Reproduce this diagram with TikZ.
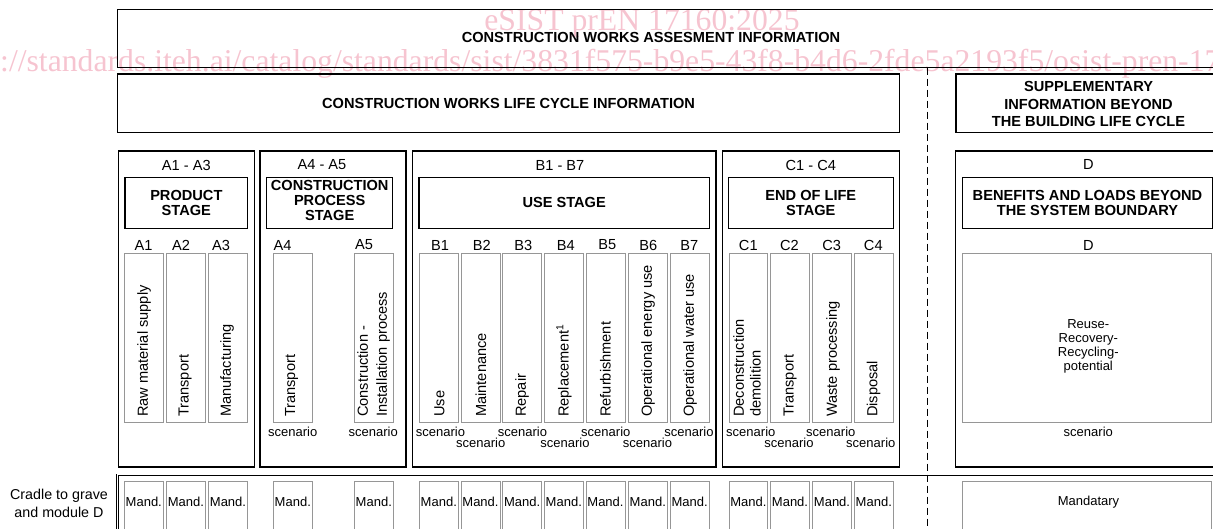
\documentclass[tikz,border=0pt]{standalone}
\usepackage{fontspec}
\setmainfont{Liberation Sans}
\newfontfamily\wmfont{Liberation Serif}
\definecolor{wmpink}{RGB}{246,196,208}
\definecolor{colgray}{RGB}{150,150,150}
\newcommand\fbig{\fontsize{14.6}{15.5}\selectfont}
\newcommand\fbigb{\fontsize{14.6}{15.5}\selectfont\bfseries}
\newcommand\fsm{\fontsize{13}{14}\selectfont}
\newcommand\rbox[7]{%
  \pgfmathsetmacro\rbw{#5-#3}%
  \pgfmathsetmacro\rbh{#6-#4}%
  \pgfmathsetmacro\rbx{(#3+#5)/2}%
  \pgfmathsetmacro\rby{(#4+#6)/2}%
  \node[#2,minimum width=\rbw pt,minimum height=\rbh pt] (#1) at (\rbx,\rby) {#7};}
\tikzset{
  frame/.style={draw=black,line width=1.2pt,inner sep=0pt},
  hdr/.style={frame,font=\fbigb,align=center},
  colbox/.style={draw=colgray,line width=0.8pt,inner sep=0pt},
  lbl/.style={inner sep=0pt,font=\fbig},
  scen/.style={inner sep=0pt,font=\fsm},
  vtxt/.style={inner sep=0pt,font=\fbig,rotate=90,anchor=west,align=left},
  wm/.style={text=wmpink,inner sep=0pt,font=\wmfont\fontsize{31.7}{31.7}\selectfont},
  dbl/.style={draw=black,line width=0.8pt,double,double distance=0.9pt,inner sep=0pt},
}
\begin{document}
\begin{tikzpicture}[x=1pt,y=-1pt]
\useasboundingbox (0,0) rectangle (1213,528);
\clip (0,0) rectangle (1213,528);
% watermark
\node[wm,anchor=base] (wm1) at (642,30) {eSIST prEN 17160:2025};
\node[wm,anchor=base west] (wm2) at (0,71) {://standards.iteh.ai/catalog/standards/sist/3831f575-b9e5-43f8-b4d6-2fde5a2193f5/osist-pren-17160-2025};
% top boxes
\rbox{top}{frame}{117.7}{9.5}{1235}{67.7}{}
\node[lbl,font=\fbigb] (toptxt) at (651,37.5) {CONSTRUCTION WORKS ASSESMENT INFORMATION};
\rbox{lci}{frame,font=\fbigb}{117.7}{74}{899.5}{132.5}{CONSTRUCTION WORKS LIFE CYCLE INFORMATION}
\rbox{supp}{frame}{956}{74}{1221}{132.5}{}
\node[inner sep=0pt,align=center,font=\fontsize{14.6}{17.8}\selectfont\bfseries] (supptxt) at (1088.5,104) {SUPPLEMENTARY\\INFORMATION BEYOND\\THE BUILDING LIFE CYCLE};
% stage boxes
\rbox{sA}{frame}{118.3}{151}{254.3}{467}{}
\rbox{sAA}{frame}{260}{151}{406}{467}{}
\rbox{sB}{frame}{412.7}{151}{716}{467}{}
\rbox{sC}{frame}{722.3}{151}{899.3}{467}{}
\rbox{sD}{frame}{955.7}{151}{1221}{467}{}
% range labels
\node[lbl] (rA) at (186.3,165) {A1 - A3};
\node[lbl] (rAA) at (322,165) {A4 - A5};
\node[lbl] (rB) at (560,165) {B1 - B7};
\node[lbl] (rC) at (810.8,165) {C1 - C4};
\node[lbl] (rD) at (1088.3,164) {D};
% header boxes
\rbox{hA}{hdr}{125}{177.3}{247.7}{228.3}{PRODUCT\\STAGE}
\rbox{hAA}{frame}{266.7}{177.3}{392.7}{228.3}{}
\node[inner sep=0pt,align=center,font=\fontsize{14.6}{15.3}\selectfont\bfseries] (hAAtxt) at (329.7,200.5) {CONSTRUCTION\\PROCESS\\STAGE};
\rbox{hB}{hdr}{419}{177.3}{709.3}{228.3}{USE STAGE}
\rbox{hC}{hdr}{728.3}{177.3}{893.3}{228.3}{END OF LIFE\\STAGE}
\rbox{hD}{hdr}{962.7}{177.3}{1212.3}{228.3}{BENEFITS AND LOADS BEYOND\\THE SYSTEM BOUNDARY}
% module labels
\foreach \x/\t [count=\i] in {143.5/A1,181/A2,221/A3,282.5/A4,364/A5,440/B1,481.7/B2,523.3/B3,565.7/B4,607.3/B5,648.3/B6,689.3/B7,748.3/C1,789.5/C2,831.7/C3,873.3/C4,1088.3/D}
  \node[lbl] (ml\i) at (\x,245) {\t};
% column boxes
\foreach \a/\b [count=\i] in {124.3/163.3,166/205.7,208.3/247.7,273.3/312.3,354.3/393.3,419.3/458.3,461/500,502.7/541.7,544.3/583.3,586/625,628.3/667.3,670/709.3,729/767.7,770.7/809.3,812.3/851.7,854.3/893.3}
  {\rbox{col\i}{colbox}{\a}{253.5}{\b}{422.7}{}}
\rbox{colD}{colbox}{962.7}{253.5}{1211.7}{422.7}{}
% vertical texts
\node[vtxt] (vA1) at (144,417) {Raw material supply};
\node[vtxt] (vA2) at (185,417) {Transport};
\node[vtxt] (vA3) at (227,417) {Manufacturing};
\node[vtxt] (vA4) at (291.5,417) {Transport};
\node[vtxt,font=\fontsize{14.6}{19}\selectfont] (vA5) at (373.5,417) {Construction -\\Installation process};
\node[vtxt] (vB1) at (439.5,417) {Use};
\node[vtxt] (vB2) at (481,417) {Maintenance};
\node[vtxt] (vB3) at (522,417) {Repair};
\node[vtxt] (vB4) at (564,417) {Replacement\textsuperscript{1}};
\node[vtxt] (vB5) at (605.5,417) {Refurbishment};
\node[vtxt] (vB6) at (648,417) {Operational energy use};
\node[vtxt] (vB7) at (690,417) {Operational water use};
\node[vtxt,font=\fontsize{14.6}{16.7}\selectfont] (vC1) at (747,417) {Deconstruction\\demolition};
\node[vtxt] (vC2) at (790,417) {Transport};
\node[vtxt] (vC3) at (833,417) {Waste processing};
\node[vtxt] (vC4) at (873.5,417) {Disposal};
\node[inner sep=0pt,align=center,font=\fontsize{13}{14.2}\selectfont] (reuse) at (1088.3,346.5) {Reuse-\\Recovery-\\Recycling-\\potential};
% scenario labels
\foreach \x/\y [count=\i] in {292.8/431.7,373.3/431.7,440.5/431.7,480.8/443.3,522.5/431.7,565/443.3,605.8/431.7,647.5/443.3,689/431.7,750.8/431.7,789/443.3,830.8/431.7,870.8/443.3,1088.3/431.7}
  \node[scen] (sc\i) at (\x,\y) {scenario};
% bottom row
\rbox{brow}{dbl}{117.7}{474.8}{1235}{545}{}
\node[inner sep=0pt,align=center,font=\fontsize{14.3}{17.7}\selectfont] (cradle) at (59,503.5) {Cradle to grave\\and module D};
\foreach \a/\b [count=\i] in {124.3/163.3,166/205.7,208.3/247.7,273.3/312.3,354.3/393.3,419.3/458.3,461/500,502.7/541.7,544.3/583.3,586/625,628.3/667.3,670/709.3,729/767.7,770.7/809.3,812.3/851.7,854.3/893.3}
  {\rbox{mb\i}{colbox}{\a}{481}{\b}{545}{}
   \node[scen] (mt\i) at ({(\a+\b)/2},502) {Mand.};}
\rbox{mbD}{colbox}{962.8}{481}{1211}{545}{}
\node[scen] (mtD) at (1088.5,502.5) {Mandatary};
% dashed separator
\coordinate (dtop) at (927.7,67.7);
\coordinate (dbot) at (927.7,530);
\draw[line width=1.3pt,dash pattern=on 7pt off 4pt] (dtop) -- (dbot);
\end{tikzpicture}
\end{document}
